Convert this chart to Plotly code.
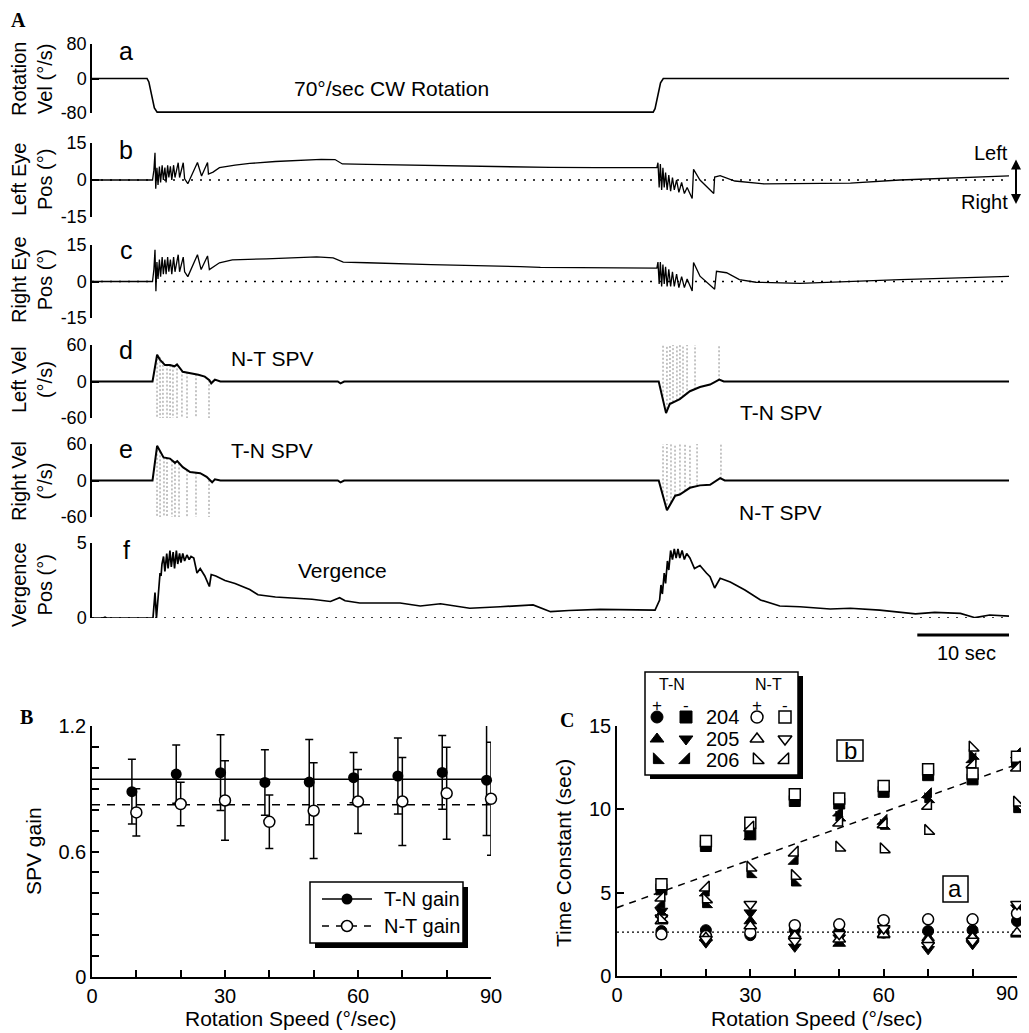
import plotly.graph_objects as go

# page body has an 8px margin: figure coordinates are reference pixels minus 8
OFF = 8
WF, HF = 1021, 1025
SANS = "Liberation Sans, Arial, Helvetica, sans-serif"
SERIF = "Liberation Serif, Times New Roman, serif"

# ======================= DATA =======================
# ---- Panel A (time in seconds) ----
rot_t = [0, 6.0, 6.2, 6.8, 7.1, 61.2, 61.4, 62.0, 62.3, 100]
rot_v = [0, 0, -8, -68, -78, -78, -70, -10, 0, 0]

leye_t = [0, 6.6, 6.75, 6.87, 6.95, 7.08, 7.2, 7.35, 7.48, 7.65, 7.78, 7.95, 8.08, 8.25, 8.38, 8.55,
          8.7, 8.9, 9.05, 9.4, 9.55, 9.95, 10.1, 10.45, 11.5, 11.95, 12.6, 12.7, 13.2, 13.9, 15.6,
          17.2, 20.0, 22.7, 25.0, 26.5, 27.3, 30, 35, 40, 44.5, 50, 55, 61.4, 61.6, 61.72, 61.85,
          61.98, 62.12, 62.26, 62.4, 62.55, 62.72, 62.9, 63.1, 63.3, 63.5, 63.75, 64.0, 64.3, 64.6,
          64.9, 65.45, 65.6, 66.3, 67.8, 67.9, 68.5, 70.1, 73.3, 77.0, 82.7, 88.1, 93.6, 100]
leye_v = [0, 0, 4, 11, -3.5, 5, -2, 5.5, -1, 6, 0, 5, -1, 6, 1, 5.5, 0, 6, 1, 7, 1, 7, 0.5, -1.5, 7.1,
          1.6, 7.1, 2.4, 3.2, 5.0, 6.0, 6.7, 7.5, 8.0, 8.4, 8.3, 6.5, 6.3, 6.0, 5.7, 5.3, 5.1, 5.0,
          5.0, 5.0, 7, -3, 6.5, -4, 5, -3, 3, -4, 2, -4.5, 1, -4, 0, -5, -1, -5.5, -3, -7.5, 4.3, 0,
          -5.5, 1.2, 1.8, -0.4, -1.6, -1.6, -1.3, 0, 0.8, 1.7]

reye_t = [0, 6.6, 6.75, 6.87, 6.97, 7.08, 7.2, 7.35, 7.48, 7.65, 7.78, 7.95, 8.08, 8.25, 8.38, 8.55,
          8.7, 8.9, 9.05, 9.4, 9.55, 9.95, 10.1, 10.45, 11.5, 11.9, 12.6, 12.8, 13.9, 15.3, 19.0, 24.5,
          26.3, 27.4, 30.0, 37.0, 46.7, 48.9, 61.6, 61.72, 61.85, 61.98, 62.12, 62.26, 62.4, 62.55,
          62.72, 62.9, 63.1, 63.3, 63.5, 63.75, 64.0, 64.3, 64.6, 64.9, 65.45, 65.6, 66.3, 67.9, 68.1,
          69.2, 70.6, 72.4, 77.2, 80.5, 88.1, 100]
reye_v = [0, 0, 5, 13, -4, 8, 1, 9, 2, 10, 3, 9, 3, 10, 4, 9, 3, 10, 4, 11, 4, 10, 4, 2, 11, 4.9, 10.5,
          4.9, 7.7, 8.9, 9.3, 10.1, 9.7, 8.0, 7.7, 6.9, 6.1, 5.8, 5.5, 8, -1, 8, -2, 7, -1, 6, -2, 5,
          -2, 4, -2, 3, -2.5, 2, -2.5, 1, -3.9, 7.8, 2.2, -3.2, 4.2, 3.6, 0.8, -0.3, -0.8, -0.3, 0.8,
          2.1]

lvel_t = [0, 6.6, 7.1, 7.4, 7.96, 8.5, 9.0, 9.27, 9.9, 10.7, 11.6, 12.3, 12.8, 13.0, 13.4, 14.0, 26.8,
          27.1, 27.5, 61.8, 62.6, 63.0, 64.1, 65.2, 66.3, 67.4, 68.4, 68.9, 100]
lvel_v = [0, 0, 44, 36, 27, 27, 25, 28, 16, 14, 11, 8, 2, -3, 3, 0, 0, -3, 0, 0, -52, -37, -29, -16,
          -9, -5, 3, 0, 0]

rvel_t = [0, 6.6, 7.1, 7.8, 8.5, 9.05, 9.3, 9.9, 10.7, 11.8, 12.5, 12.9, 13.1, 13.4, 14.0, 26.8, 27.1,
          27.5, 61.8, 62.7, 63.6, 64.1, 65.2, 66.3, 67.4, 68.5, 69.0, 100]
rvel_v = [0, 0, 57, 38, 36, 29, 32, 22, 14, 12, 6, 0, -3, 2, 0, 0, -3, 0, 0, -49, -25, -23, -12, -8,
          -7, 4, 0, 0]

# removed-saccade markers (time, velocity at trace)
lsac_on_t = [7.09, 7.42, 7.74, 8.18, 8.51, 8.83, 9.27, 9.81, 10.36, 11.34, 12.76]
lsac_on_v = [44, 40, 34, 28, 27, 26, 28, 18, 15, 12, 2]
lsac_off_t = [62.27, 62.70, 63.03, 63.36, 63.79, 64.12, 64.45, 64.89, 65.76, 68.38]
lsac_off_v = [-30, -45, -37, -34, -31, -29, -25, -21, -13, 2]
rsac_on_t = [7.09, 7.42, 7.85, 8.18, 8.72, 9.05, 9.49, 10.36, 11.34, 12.76]
rsac_on_v = [57, 48, 38, 37, 33, 29, 28, 17, 13, 1]
rsac_off_t = [62.27, 62.70, 63.14, 63.58, 64.12, 64.67, 65.21, 65.98, 68.59]
rsac_off_v = [-26, -47, -36, -25, -23, -17, -12, -8, 3]

verg_t = [0, 1.2, 1.42, 1.6, 6.65, 6.87, 7.03, 7.2, 7.42, 7.53, 7.63, 7.8, 7.95, 8.15, 8.3, 8.5, 8.65,
          8.85, 9.0, 9.2, 9.35, 9.55, 9.7, 9.9, 10.1, 10.35, 10.6, 10.8, 11.1, 11.45, 11.8, 12.3,
          12.8, 13.0, 13.5, 14.5, 15.6, 17.2, 18.1, 20.0, 22.7, 24.0, 26.0, 27.0, 27.6, 29.2, 33.6,
          35.8, 38.0, 41.2, 44.5, 48.1, 50.0, 52.0, 55.4, 58.7, 61.4, 61.9, 62.05, 62.2, 62.4, 62.55,
          62.75, 62.9, 63.1, 63.3, 63.5, 63.7, 63.9, 64.1, 64.35, 64.6, 64.85, 65.2, 65.45, 65.7,
          66.0, 66.3, 67.0, 67.4, 67.9, 68.3, 68.5, 69.6, 71.2, 72.9, 75.0, 77.2, 80.5, 82.7, 85.9,
          89.8, 91.9, 94.7, 96.3, 97.9, 100]
verg_v = [0, 0, 0.06, 0, 0, 1.7, 0, 1.5, 3.0, 2.8, 3.6, 4.1, 3.1, 4.3, 3.3, 4.5, 3.4, 4.4, 3.3, 4.5,
          3.6, 4.3, 3.7, 4.3, 3.8, 4.2, 3.9, 4.1, 4.0, 3.0, 3.3, 2.8, 2.1, 2.9, 2.8, 2.5, 2.3, 1.9,
          1.55, 1.4, 1.3, 1.25, 1.1, 1.35, 1.15, 1.0, 1.0, 0.8, 0.95, 0.65, 0.75, 0.87, 0.42, 0.5,
          0.58, 0.58, 0.53, 1.2, 2.2, 1.6, 3.0, 2.3, 3.8, 3.2, 4.5, 3.9, 4.6, 4.0, 4.6, 4.0, 4.5,
          3.9, 4.3, 4.0, 3.6, 3.3, 3.4, 3.5, 3.0, 2.75, 2.0, 2.5, 2.65, 2.4, 1.87, 1.2, 0.8, 0.75,
          0.6, 0.65, 0.53, 0.27, 0.38, 0.31, 0.02, 0.2, 0.13]

# ---- Panel B ----
speeds = [10, 20, 30, 40, 50, 60, 70, 80, 90]
tn_x = [9, 19, 29, 39, 49, 59, 69, 79, 89]
tn_gain = [0.886, 0.970, 0.977, 0.930, 0.932, 0.953, 0.961, 0.978, 0.941]
tn_err = [0.155, 0.139, 0.181, 0.157, 0.204, 0.120, 0.182, 0.176, 0.265]
nt_gain = [0.787, 0.827, 0.844, 0.742, 0.795, 0.839, 0.839, 0.878, 0.852]
nt_err = [0.113, 0.104, 0.190, 0.128, 0.229, 0.153, 0.210, 0.220, 0.270]
tn_mean = 0.946
nt_mean = 0.823

# ---- Panel C (time constants, s) ----
tc_204_tn_pos = [2.7, 2.75, 2.45, 2.75, 2.65, 2.6, 2.7, 2.75, 3.3]
tc_204_tn_neg = [5.2, 7.8, 8.5, 10.5, 10.35, 11.05, 12.05, 11.8, 12.85]
tc_204_nt_pos = [2.5, 2.4, 2.6, 3.05, 3.1, 3.35, 3.4, 3.4, 3.75]
tc_204_nt_neg = [5.5, 8.1, 9.2, 10.9, 10.65, 11.4, 12.4, 12.15, 13.15]
tc_205_tn_pos = [3.7, 2.5, 3.3, 2.5, 1.95, 2.45, 2.3, 2.4, 2.5]
tc_205_tn_neg = [3.9, 2.0, 3.8, 1.75, 2.3, 2.75, 1.6, 1.9, 4.1]
tc_205_nt_pos = [3.3, 2.3, 3.0, 2.4, 2.2, 2.5, 2.15, 2.3, 2.6]
tc_205_nt_neg = [3.5, 2.2, 4.3, 2.1, 2.5, 2.85, 1.85, 2.1, 4.3]
tc_206_tn_pos = [3.8, 4.3, 6.1, 5.6, 9.5, 9.0, 10.6, 13.2, 10.0]
tc_206_tn_neg = [4.3, 5.0, 8.4, 6.9, 9.8, 9.3, 10.9, 13.0, 13.3]
tc_206_nt_pos = [3.4, 4.6, 6.5, 6.0, 7.7, 7.6, 8.7, 13.7, 10.4]
tc_206_nt_neg = [4.7, 5.3, 8.9, 7.4, 9.2, 9.1, 10.2, 12.7, 12.5]
fit_x = [0, 90]
fit_slow = [4.1, 12.7]
fit_fast = [2.63, 2.63]

# ======================= FIGURE =======================
def fx(p):
    return (p - OFF) / WF


def fy(p):
    return 1 - (p - OFF) / HF


fig = go.Figure()
layout = {}

A_panels = [
    # (y-domain px top, bottom), range, tickvals, ticktext, title, title-centre px, letter y
    ((44, 113), [-80, 80], [-80, 0, 80], ["-80", "0", "80"], "Rotation<br>Vel (°/s)", 79, 51),
    ((143, 217), [-15, 15], [-15, 0, 15], ["-15", "0", "15"], "Left Eye<br>Pos (°)", 180, 150),
    ((245, 318), [-15, 15], [-15, 0, 15], ["-15", "0", "15"], "Right Eye<br>Pos (°)", 280, 250),
    ((345, 418), [-60, 60], [-60, 0, 60], ["-60", "0", "60"], "Left Vel<br>(°/s)", 380, 350),
    ((444, 517), [-60, 60], [-60, 0, 60], ["-60", "0", "60"], "Right Vel<br>(°/s)", 481, 449),
    ((543, 618), [0, 5], [0, 5], ["0", "5"], "Vergence<br>Pos (°)", 585, 550),
]
letters = ["a", "b", "c", "d", "e", "f"]

AX = dict(automargin=False, showgrid=False, zeroline=False, fixedrange=True)

for i, (ydom, yr, tv, tt, ttl, tcy, ly) in enumerate(A_panels, start=1):
    sfx = "" if i == 1 else str(i)
    layout["xaxis" + sfx] = dict(domain=[fx(92), fx(1009)], range=[0, 100], visible=False,
                                 anchor="y" + sfx, **AX)
    layout["yaxis" + sfx] = dict(domain=[fy(ydom[1]), fy(ydom[0])], range=yr, anchor="x" + sfx,
                                 showline=True, linecolor="black", linewidth=1.5, ticks="inside",
                                 ticklen=7, tickwidth=1.5, tickcolor="black", tickvals=tv, ticktext=tt,
                                 tickfont=dict(size=18, family=SANS, color="black"), **AX)
    fig.add_annotation(x=fx(32), y=fy(tcy), xref="paper", yref="paper", text=ttl, textangle=-90,
                       showarrow=False, font=dict(size=20, family=SANS, color="black"),
                       xanchor="center", yanchor="middle")
    fig.add_annotation(x=fx(126), y=fy(ly), xref="paper", yref="paper", text=letters[i - 1],
                       showarrow=False, font=dict(size=25, family=SANS, color="black"),
                       xanchor="center", yanchor="middle")


def line_trace(x, y, ax, color="black", width=1.5, dash=None):
    xa = "x" if ax == 1 else "x%d" % ax
    ya = "y" if ax == 1 else "y%d" % ax
    return go.Scatter(x=x, y=y, xaxis=xa, yaxis=ya, mode="lines",
                      line=dict(color=color, width=width, dash=dash), hoverinfo="skip",
                      showlegend=False)


# dotted zero references
for ax in (2, 3, 6):
    fig.add_trace(line_trace([0, 100], [0, 0], ax, width=1.3, dash="2px,7px"))


# saccade marker lines
def sac_lines(ts, vs, end):
    xs, ys = [], []
    for t, v in zip(ts, vs):
        xs += [t, t, None]
        ys += [v, end, None]
    return xs, ys


for ts, vs, end, ax in [(lsac_on_t, lsac_on_v, -60, 4), (lsac_off_t, lsac_off_v, 60, 4),
                        (rsac_on_t, rsac_on_v, -60, 5), (rsac_off_t, rsac_off_v, 60, 5)]:
    xs, ys = sac_lines(ts, vs, end)
    fig.add_trace(line_trace(xs, ys, ax, color="#8a8a8a", width=1, dash="2px,2px"))

fig.add_trace(line_trace(rot_t, rot_v, 1, width=1.6))
fig.add_trace(line_trace(leye_t, leye_v, 2, width=1.3))
fig.add_trace(line_trace(reye_t, reye_v, 3, width=1.3))
fig.add_trace(line_trace(lvel_t, lvel_v, 4, width=2))
fig.add_trace(line_trace(rvel_t, rvel_v, 5, width=2))
fig.add_trace(line_trace(verg_t, verg_v, 6, width=1.7))

# ---------------- Panel B axes ----------------
tickfontBC = dict(size=20, family=SANS, color="black")
TK = dict(showline=True, linecolor="black", linewidth=1.5, ticks="inside", ticklen=7, tickwidth=1.5,
          tickcolor="black", tickfont=tickfontBC)
layout["xaxis7"] = dict(domain=[fx(92), fx(491)], range=[0, 90], anchor="y7",
                        tickvals=[0, 30, 60, 90], ticktext=["0", "30", "60", "90"],
                        minor=dict(tickvals=[10, 20, 40, 50, 70, 80], ticks="inside", ticklen=7,
                                   tickwidth=1.5, tickcolor="black", showgrid=False), **TK, **AX)
layout["yaxis7"] = dict(domain=[fy(977), fy(726)], range=[0, 1.2], anchor="x7",
                        tickvals=[0, 0.6, 1.2], ticktext=["0", "0.6", "1.2"],
                        minor=dict(tickvals=[0.1, 0.2, 0.3, 0.4, 0.5, 0.7, 0.8, 0.9, 1.0, 1.1],
                                   ticks="inside", ticklen=7, tickwidth=1.5, tickcolor="black",
                                   showgrid=False), **TK, **AX)

fig.add_trace(line_trace([0, 90], [tn_mean, tn_mean], 7, width=1.5))
fig.add_trace(line_trace([0, 90], [nt_mean, nt_mean], 7, width=1.5, dash="8px,7px"))
fig.add_trace(go.Scatter(x=tn_x, y=tn_gain, xaxis="x7", yaxis="y7", mode="markers",
                         marker=dict(symbol="circle", size=11, color="black"),
                         error_y=dict(type="data", array=tn_err, color="black", thickness=1.5, width=4),
                         cliponaxis=False, hoverinfo="skip", showlegend=False))
fig.add_trace(go.Scatter(x=speeds, y=nt_gain, xaxis="x7", yaxis="y7", mode="markers",
                         marker=dict(symbol="circle", size=11, color="white",
                                     line=dict(color="black", width=1.5)),
                         error_y=dict(type="data", array=nt_err, color="black", thickness=1.5, width=4),
                         cliponaxis=False, hoverinfo="skip", showlegend=False))

# ---------------- Panel C axes ----------------
# the last tick label ("90") is drawn as an annotation nudged inside the visible page
layout["xaxis8"] = dict(domain=[fx(617), fx(1017)], range=[0, 90], anchor="y8",
                        tickvals=[0, 30, 60, 90], ticktext=["0", "30", "60", ""],
                        minor=dict(tickvals=[10, 20, 40, 50, 70, 80], ticks="inside", ticklen=7,
                                   tickwidth=1.5, tickcolor="black", showgrid=False), **TK, **AX)
layout["yaxis8"] = dict(domain=[fy(976), fy(726)], range=[0, 15], anchor="x8",
                        tickvals=[0, 5, 10, 15], ticktext=["0", "5", "10", "15"], **TK, **AX)

fig.add_trace(line_trace(fit_x, fit_slow, 8, width=1.5, dash="7px,6px"))
fig.add_trace(line_trace(fit_x, fit_fast, 8, width=1.3, dash="2px,3px"))

SYM = {
    "204+": "circle", "204-": "square", "205+": "triangle-up", "205-": "triangle-down",
    "206+": "triangle-sw", "206-": "triangle-se",
}
filled_series = [("204+", tc_204_tn_pos), ("204-", tc_204_tn_neg), ("205+", tc_205_tn_pos),
                 ("205-", tc_205_tn_neg), ("206+", tc_206_tn_pos), ("206-", tc_206_tn_neg)]
open_series = [("204+", tc_204_nt_pos), ("204-", tc_204_nt_neg), ("205+", tc_205_nt_pos),
               ("205-", tc_205_nt_neg), ("206+", tc_206_nt_pos), ("206-", tc_206_nt_neg)]
for key, vals in filled_series:
    fig.add_trace(go.Scatter(x=speeds, y=vals, xaxis="x8", yaxis="y8", mode="markers",
                             marker=dict(symbol=SYM[key], size=11, color="black",
                                         line=dict(color="black", width=1)),
                             cliponaxis=False, hoverinfo="skip", showlegend=False))
for key, vals in open_series:
    fig.add_trace(go.Scatter(x=speeds, y=vals, xaxis="x8", yaxis="y8", mode="markers",
                             marker=dict(symbol=SYM[key], size=11, color="white",
                                         line=dict(color="black", width=1.5)),
                             cliponaxis=False, hoverinfo="skip", showlegend=False))

# ---------------- pixel overlay axis (legend glyphs) ----------------
layout["xaxis9"] = dict(domain=[0, 1], range=[OFF, OFF + WF], visible=False, anchor="y9", **AX)
layout["yaxis9"] = dict(domain=[0, 1], range=[OFF + HF, OFF], visible=False, anchor="x9", **AX)

# legend B glyphs
fig.add_trace(go.Scatter(x=[322, 372], y=[899, 899], xaxis="x9", yaxis="y9", mode="lines",
                         line=dict(color="black", width=1.5), hoverinfo="skip", showlegend=False))
fig.add_trace(go.Scatter(x=[322, 372], y=[926, 926], xaxis="x9", yaxis="y9", mode="lines",
                         line=dict(color="black", width=1.5, dash="7px,7px"), hoverinfo="skip",
                         showlegend=False))
fig.add_trace(go.Scatter(x=[347], y=[899], xaxis="x9", yaxis="y9", mode="markers",
                         marker=dict(symbol="circle", size=11, color="black"), hoverinfo="skip",
                         showlegend=False))
fig.add_trace(go.Scatter(x=[347], y=[926], xaxis="x9", yaxis="y9", mode="markers",
                         marker=dict(symbol="circle", size=11, color="white",
                                     line=dict(color="black", width=1.5)), hoverinfo="skip",
                         showlegend=False))

# legend C glyphs
rows = {"204": 717, "205": 739, "206": 760}
cols_f = {"+": 657, "-": 686}
cols_o = {"+": 757, "-": 785}
for subj, yy in rows.items():
    for sign, xx in cols_f.items():
        fig.add_trace(go.Scatter(x=[xx], y=[yy], xaxis="x9", yaxis="y9", mode="markers",
                                 marker=dict(symbol=SYM[subj + sign], size=12, color="black",
                                             line=dict(color="black", width=1)),
                                 hoverinfo="skip", showlegend=False))
    for sign, xx in cols_o.items():
        fig.add_trace(go.Scatter(x=[xx], y=[yy], xaxis="x9", yaxis="y9", mode="markers",
                                 marker=dict(symbol=SYM[subj + sign], size=12, color="white",
                                             line=dict(color="black", width=1.5)),
                                 hoverinfo="skip", showlegend=False))

# ---------------- shapes ----------------
shapes = []


def rect(x0, y0, x1, y1, fill, lw=0, layer="below"):
    shapes.append(dict(type="rect", xref="paper", yref="paper", x0=fx(x0), x1=fx(x1), y0=fy(y1),
                       y1=fy(y0), fillcolor=fill, line=dict(color="black", width=lw), layer=layer))


# legend B box with shadow
rect(315, 887, 468, 948, "black")
rect(310, 882, 463, 943, "white", 1.5)
# legend C box with shadow
rect(650, 676, 803, 779, "black")
rect(645, 672, 798, 775, "white", 1.5)
# boxed labels in C
rect(837, 740, 863, 761, "rgba(0,0,0,0)", 1.5, layer="above")
rect(943, 876, 968, 902, "rgba(0,0,0,0)", 1.5, layer="above")
# 10 s scale bar (on the time axis of panel f)
shapes.append(dict(type="line", xref="x6", yref="paper", x0=90, x1=100, y0=fy(635), y1=fy(635),
                   line=dict(color="black", width=3)))


def txt(x, y, s, size=21, family=SANS, xanchor="center", yanchor="middle", angle=0):
    fig.add_annotation(x=fx(x), y=fy(y), xref="paper", yref="paper", text=s, showarrow=False,
                       font=dict(size=size, family=family, color="black"), xanchor=xanchor,
                       yanchor=yanchor, textangle=angle)


# panel letters
txt(18, 20, "<b>A</b>", size=20, family=SERIF)
txt(26, 717, "<b>B</b>", size=20, family=SERIF)
txt(567, 720, "<b>C</b>", size=20, family=SERIF)

# panel A texts
txt(391, 89, "70°/sec CW Rotation", size=21)
txt(1010, 153, "Left", size=20, xanchor="right")
txt(1010, 202, "Right", size=20, xanchor="right")
txt(272, 358, "N-T SPV", size=21)
txt(781, 412, "T-N SPV", size=21)
txt(272, 451, "T-N SPV", size=21)
txt(780, 512, "N-T SPV", size=21)
txt(342, 570, "Vergence", size=21)
txt(966, 653, "10 sec", size=20)
fig.add_annotation(x=fx(1016), y=fy(204), ax=0, ay=-46, xref="paper", yref="paper", text="",
                   showarrow=True, arrowhead=2, arrowside="end+start", arrowwidth=2,
                   arrowsize=1, arrowcolor="black")

# panel B texts
txt(33, 851, "SPV gain", size=21, angle=-90)
txt(291, 1018, "Rotation Speed (°/sec)", size=21)
txt(382, 899, "T-N gain", size=20, xanchor="left")
txt(382, 926, "N-T gain", size=20, xanchor="left")

# panel C texts
txt(1020, 993, "90", size=20, xanchor="right")
txt(563, 853, "Time Constant (sec)", size=21, angle=-90)
txt(817, 1018, "Rotation Speed (°/sec)", size=21)
txt(850, 750, "b", size=24)
txt(955, 888, "a", size=24)
txt(672, 684, "T-N", size=16)
txt(768, 684, "N-T", size=16)
for xx, s in [(657, "+"), (686, "-"), (757, "+"), (785, "-")]:
    txt(xx, 705, s, size=17)
for subj, yy in rows.items():
    txt(722, yy, subj, size=20)

fig.update_layout(template="none", width=WF, height=HF,
                  margin=dict(l=0, r=0, t=0, b=0, pad=0, autoexpand=False),
                  paper_bgcolor="white", plot_bgcolor="rgba(0,0,0,0)", showlegend=False,
                  shapes=shapes, font=dict(family=SANS, color="black"), **layout)

fig.write_html("out.html")
